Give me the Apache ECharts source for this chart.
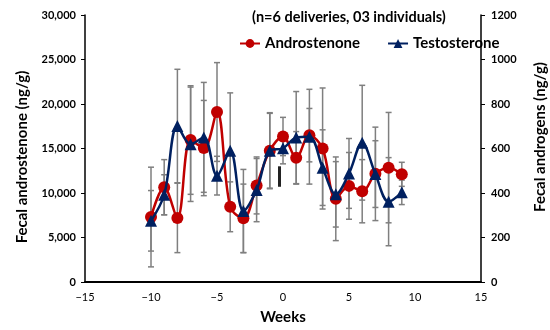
<!DOCTYPE html>
<html><head><meta charset="utf-8">
<script src="https://cdn.jsdelivr.net/npm/echarts@6/dist/echarts.min.js"></script>
<style>html,body{margin:0;padding:0;background:#fff}#c{width:550px;height:330px}</style>
</head><body><div id="c"></div>
<script>
const weeks    = [-10,-9,-8,-7,-6,-5,-4,-3,-2,-1,0,1,2,3,4,5,6,7,8,9];
const andro    = [7300,10650,7200,15950,15050,19100,8450,7150,10850,14750,16350,13950,16500,15000,9350,10800,10200,12150,12850,12100];
const androErr = [5600,3100,3900,6100,5350,5550,2800,3850,3200,4200,2150,2950,3000,6800,4700,3750,3550,5250,6200,1350];
const testo    = [275,392,701,619,650,478,590,319,413,590,601,649,653,514,394,488,626,485,361,403];
const testoErr = [136,90,255,257,247,87,260,187,142,171,70,207,213,170,147,157,258,150,198,55];
const cursorMark = [[-0.3,10700],[-0.3,13000]];

const FONT = 'Lato';
const RED = '#C00000', BLUE = '#002060', GREY = '#7f7f7f';

function errSeries(vals, errs, yIdx){
  return {
    type:'custom', xAxisIndex:0, yAxisIndex:yIdx, silent:true, z:1,
    data: weeks.map((w,i)=>[w, vals[i]-errs[i], vals[i]+errs[i]]),
    encode:{x:0, y:[1,2]},
    renderItem(params, api){
      const x = api.value(0);
      const lo = api.coord([x, api.value(1)]);
      const hi = api.coord([x, api.value(2)]);
      const hw = 3, st = {stroke:GREY, lineWidth:1.5};
      return {type:'group', children:[
        {type:'line', shape:{x1:lo[0],y1:lo[1],x2:hi[0],y2:hi[1]}, style:st},
        {type:'line', shape:{x1:lo[0]-hw,y1:lo[1],x2:lo[0]+hw,y2:lo[1]}, style:st},
        {type:'line', shape:{x1:hi[0]-hw,y1:hi[1],x2:hi[0]+hw,y2:hi[1]}, style:st}
      ]};
    }
  };
}
const minus = v => v < 0 ? '\u2212' + Math.abs(v) : String(v);
const titleStyle = {fontFamily:FONT, fontSize:15, fontWeight:'bold', fill:'#000', align:'center', verticalAlign:'middle'};

const chart = echarts.init(document.getElementById('c'));
chart.setOption({
  animation:false,
  textStyle:{fontFamily:FONT},
  title:{text:'(n=6 deliveries, 03 individuals)', left:247, top:5,
    textStyle:{fontFamily:FONT, fontSize:14.5, fontWeight:'bold', color:'#000'}},
  legend:{top:31, left:234, itemGap:27, itemWidth:20, itemHeight:11,
    textStyle:{fontFamily:FONT, fontSize:15, fontWeight:'bold', color:'#000'},
    data:['Androstenone','Testosterone']},
  graphic:[
    {type:'text', x:22, y:157, rotation:Math.PI/2, style:Object.assign({text:'Fecal androstenone (ng/g)'}, titleStyle)},
    {type:'text', x:540, y:137, rotation:Math.PI/2, style:Object.assign({text:'Fecal androgens (ng/g)'}, titleStyle)}
  ],
  grid:{left:85, right:69, top:15, bottom:48},
  xAxis:{type:'value', min:-15, max:15, interval:5,
    name:'Weeks', nameLocation:'middle', nameGap:28,
    nameTextStyle:{fontFamily:FONT, fontSize:15, fontWeight:'bold', color:'#000'},
    axisLine:{onZero:false, lineStyle:{color:'#000', width:2}},
    axisTick:{show:false}, splitLine:{show:false},
    axisLabel:{color:'#000', fontSize:11, margin:10, formatter:minus}},
  yAxis:[
    {type:'value', min:0, max:30000, interval:5000, position:'left',
     axisLine:{show:true, onZero:false, lineStyle:{color:'#000', width:1.5}},
     axisTick:{show:true, length:4, lineStyle:{color:'#000'}},
     splitLine:{show:false},
     axisLabel:{color:'#000', fontSize:11, fontWeight:'bold', margin:9,
       formatter:v=>v.toLocaleString('en-US')}},
    {type:'value', min:0, max:1200, interval:200, position:'right',
     axisLine:{show:true, onZero:false, lineStyle:{color:'#000', width:1.5}},
     axisTick:{show:true, length:4, lineStyle:{color:'#000'}},
     splitLine:{show:false},
     axisLabel:{color:'#000', fontSize:11, fontWeight:'bold', margin:10, formatter:v=>String(v)}}
  ],
  series:[
    errSeries(andro, androErr, 0),
    errSeries(testo, testoErr, 1),
    {name:'Androstenone', type:'line', yAxisIndex:0, z:3, smooth:0.35,
     data:weeks.map((w,i)=>[w,andro[i]]),
     symbol:'circle', symbolSize:12,
     lineStyle:{color:RED, width:2.5}, itemStyle:{color:RED},
     markLine:{silent:true, symbol:'none', label:{show:false},
       lineStyle:{color:'#222', width:3, type:'solid'},
       data:[[{coord:cursorMark[0]},{coord:cursorMark[1]}]]}},
    {name:'Testosterone', type:'line', yAxisIndex:1, z:4, smooth:0.35,
     data:weeks.map((w,i)=>[w,testo[i]]),
     symbol:'triangle', symbolSize:12,
     lineStyle:{color:BLUE, width:2.5}, itemStyle:{color:BLUE}}
  ]
});
</script></body></html>
